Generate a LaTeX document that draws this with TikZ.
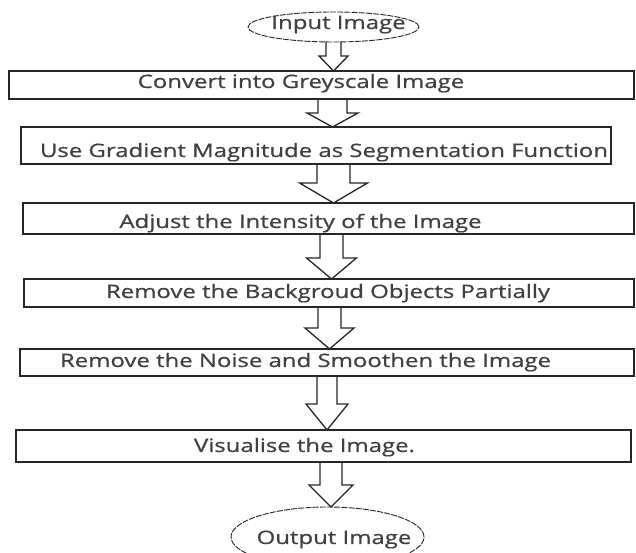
\documentclass[tikz,border=0pt]{standalone}
\usepackage{graphicx}
\usepackage{fontspec}
\setmainfont{Open Sans}
\newfontfamily\capfamily{Open Sans}[FakeBold=0.6]
\usetikzlibrary{calc,shapes.geometric}

\definecolor{ink}{HTML}{404040}
\definecolor{edge}{HTML}{262626}

\newlength\reflen
\newcommand\lblfont{\capfamily\fontsize{18.5}{20}\selectfont}
\newcommand\lbl[1]{\scalebox{\capscale}[1]{#1}}

% hollow block arrow from the bottom of #1 to the top of #2
% #3 centre x, #4 shaft half width, #5 head half width, #6 head length
\newcommand\blockarrow[6]{%
  \draw[barrow] let \p1=(#1.south), \p2=(#2.north) in
    (#3pt-#4pt,\y1) -- (#3pt-#4pt,\y2+#6pt) -- (#3pt-#5pt,\y2+#6pt)
    -- (#3pt,\y2) -- (#3pt+#5pt,\y2+#6pt) -- (#3pt+#4pt,\y2+#6pt)
    -- (#3pt+#4pt,\y1);}

\begin{document}
% horizontal stretch that gives the widest caption its printed width
\settowidth\reflen{\lblfont Use Gradient Magnitude as Segmentation Function}
\pgfmathsetmacro\capscale{568/\reflen}%
\begin{tikzpicture}[x=1pt,y=1pt,
  stage/.style={draw=edge, line width=1.5pt, rectangle, inner sep=0pt, outer sep=0pt},
  terminal/.style={draw=edge, line width=0.9pt, ellipse, inner sep=0pt, outer sep=0pt,
    dash pattern=on 6pt off 1.2pt},
  caption/.style={text=ink, font=\lblfont, inner sep=0pt, anchor=base},
  barrow/.style={draw=edge, line width=1.3pt, line join=miter}]

\fill[white] (0,0) rectangle (636,553);
\useasboundingbox (0,0) rectangle (636,553);

% terminals
\node[terminal, minimum width=171, minimum height=30] (in)  at (333.5,526) {};
\node[terminal, minimum width=193, minimum height=60] (out) at (327.5,16) {};

% processing steps
\node[stage, minimum width=625, minimum height=28] (s1) at (321.5,468)   {};
\node[stage, minimum width=590, minimum height=37] (s2) at (316,407.5)   {};
\node[stage, minimum width=611, minimum height=31] (s3) at (328.5,334.5) {};
\node[stage, minimum width=610, minimum height=28] (s4) at (329,260)     {};
\node[stage, minimum width=614, minimum height=27] (s5) at (327,190.5)   {};
\node[stage, minimum width=615, minimum height=32] (s6) at (323.5,107)   {};

% texts
\node[caption] (tin)  at (338.5,524) {\lbl{Input Image}};
\node[caption] (t1)   at (301,465)   {\lbl{Convert into Greyscale Image}};
\node[caption] (t2)   at (324,396)   {\lbl{Use Gradient Magnitude as Segmentation Function}};
\node[caption] (t3)   at (300.5,325) {\lbl{Adjust the Intensity of the Image}};
\node[caption] (t4)   at (328,255)   {\lbl{Remove the Backgroud Objects Partially}};
\node[caption] (t5)   at (305.5,186) {\lbl{Remove the Noise and Smoothen the Image}};
\node[caption] (t6)   at (304.5,101) {\lbl{Visualise the Image.}};
\node[caption] (tout) at (334,9)     {\lbl{Output Image}};

% flow
\blockarrow{in}{s1}{333.5}{7.5}{14.5}{15}
\blockarrow{s1}{s2}{332.5}{14.5}{25.5}{14}
\blockarrow{s2}{s3}{333.5}{16.5}{34}{20}
\blockarrow{s3}{s4}{331.5}{11.5}{25}{21}
\blockarrow{s4}{s5}{329.5}{11.5}{24.5}{21}
\blockarrow{s5}{s6}{327}{10}{21}{26}
\blockarrow{s6}{out}{331}{11}{22}{22}
\end{tikzpicture}
\end{document}
